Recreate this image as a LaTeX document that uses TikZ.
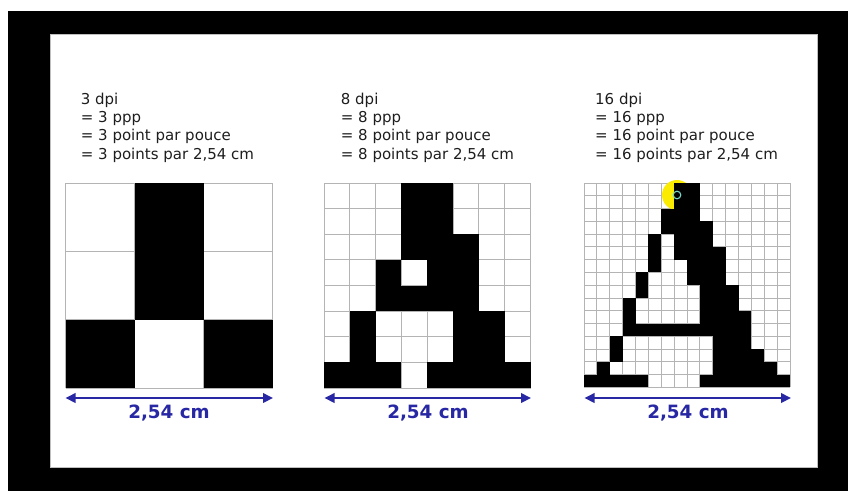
\documentclass[tikz,border=0pt]{standalone}
\usepackage{fontspec}
\setmainfont{DejaVu Sans}
\usetikzlibrary{arrows.meta}
\definecolor{mblue}{RGB}{40,40,165}
\definecolor{gridgray}{RGB}{180,180,180}
\definecolor{txtgray}{RGB}{30,30,30}
\definecolor{hlyellow}{RGB}{250,235,0}
\definecolor{ringcol}{RGB}{120,215,200}
\begin{document}
\begin{tikzpicture}[x=1pt,y=-1pt,
  txt/.style={anchor=base west, inner sep=0pt, text=txtgray, font=\fontsize{15}{18}\selectfont},
  gridline/.style={draw=gridgray, line width=0.9pt},
  pix/.style={fill=black},
  dimarrow/.style={draw=mblue, line width=2pt, {Triangle[length=10pt,width=9.5pt]}-{Triangle[length=10pt,width=9.5pt]}},
  dimlabel/.style={anchor=base, inner sep=0pt, text=mblue, font=\fontsize{18.3}{20}\selectfont\bfseries}
]
\useasboundingbox (0,0) rectangle (848,491);
\fill[white] (0,0) rectangle (848,491);
\fill[black] (8,11) rectangle (848,491);
\filldraw[fill=white, draw=gray!50, line width=0.8pt] (50,34) rectangle (817,467);

% ---------- texts ----------
\node[txt] (t1a) at (80.7,104) {3 dpi};
\node[txt] (t1b) at (80.7,122.3) {= 3 ppp};
\node[txt] (t1c) at (80.7,140.6) {= 3 point par pouce};
\node[txt] (t1d) at (80.7,159) {= 3 points par 2,54 cm};

\node[txt] (t2a) at (340.7,104) {8 dpi};
\node[txt] (t2b) at (340.7,122.3) {= 8 ppp};
\node[txt] (t2c) at (340.7,140.6) {= 8 point par pouce};
\node[txt] (t2d) at (340.7,159) {= 8 points par 2,54 cm};

\node[txt] (t3a) at (595,104) {16 dpi};
\node[txt] (t3b) at (595,122.3) {= 16 ppp};
\node[txt] (t3c) at (595,140.6) {= 16 point par pouce};
\node[txt] (t3d) at (595,159) {= 16 points par 2,54 cm};

% ---------- grid 1 (3x3) ----------
\def\gx{65.5}\def\gy{183}\def\cw{69}\def\ch{68.33}
\foreach \k in {0,...,3}{
  \draw[gridline] ({\gx+\k*\cw},\gy) -- ({\gx+\k*\cw},{\gy+3*\ch});
  \draw[gridline] (\gx,{\gy+\k*\ch}) -- ({\gx+3*\cw},{\gy+\k*\ch});
}
\foreach \r/\a/\b in {0/1/1,1/1/1,2/0/0,2/2/2}
  \fill[pix] ({\gx+\a*\cw},{\gy+\r*\ch}) rectangle ({\gx+(\b+1)*\cw},{\gy+(\r+1)*\ch});

% ---------- grid 2 (8x8) ----------
\def\gx{324}\def\gy{183}\def\cw{25.8125}\def\ch{25.625}
\foreach \k in {0,...,8}{
  \draw[gridline] ({\gx+\k*\cw},\gy) -- ({\gx+\k*\cw},{\gy+8*\ch});
  \draw[gridline] (\gx,{\gy+\k*\ch}) -- ({\gx+8*\cw},{\gy+\k*\ch});
}
\foreach \r/\a/\b in {0/3/4,1/3/4,2/3/5,3/2/2,3/4/5,4/2/5,5/1/1,5/5/6,6/1/1,6/5/6,7/0/2,7/4/7}
  \fill[pix] ({\gx+\a*\cw},{\gy+\r*\ch}) rectangle ({\gx+(\b+1)*\cw},{\gy+(\r+1)*\ch});

% ---------- grid 3 (16x16) ----------
\def\gx{584}\def\gy{183}\def\cw{12.875}\def\ch{12.78}
\foreach \k in {0,...,16}{
  \draw[gridline] ({\gx+\k*\cw},\gy) -- ({\gx+\k*\cw},{\gy+16*\ch});
  \draw[gridline] (\gx,{\gy+\k*\ch}) -- ({\gx+16*\cw},{\gy+\k*\ch});
}
\fill[hlyellow] (677,195) circle[radius=15];
\foreach \r/\a/\b in {0/7/8,1/7/8,2/6/8,3/6/9,4/5/5,4/7/9,5/5/5,5/7/10,6/5/5,6/8/10,
                      7/4/4,7/8/10,8/4/4,8/9/11,9/3/3,9/9/11,10/3/3,10/9/12,11/3/12,
                      12/2/2,12/10/12,13/2/2,13/10/13,14/1/1,14/10/14,15/0/4,15/9/15}
  \fill[pix] ({\gx+\a*\cw},{\gy+\r*\ch}) rectangle ({\gx+(\b+1)*\cw},{\gy+(\r+1)*\ch});
\draw[ringcol, line width=1.1pt] (677,195) circle[radius=3.8];

% ---------- dimension arrows ----------
\coordinate (a1l) at (65.5,398); \coordinate (a1r) at (273,398);
\coordinate (a2l) at (324.5,398); \coordinate (a2r) at (531,398);
\coordinate (a3l) at (584.5,398); \coordinate (a3r) at (791,398);
\draw[dimarrow] (a1l) -- (a1r);
\draw[dimarrow] (a2l) -- (a2r);
\draw[dimarrow] (a3l) -- (a3r);
\node[dimlabel] (l1) at (169,418.5) {2,54 cm};
\node[dimlabel] (l2) at (428,418.5) {2,54 cm};
\node[dimlabel] (l3) at (688,418.5) {2,54 cm};
\end{tikzpicture}
\end{document}
